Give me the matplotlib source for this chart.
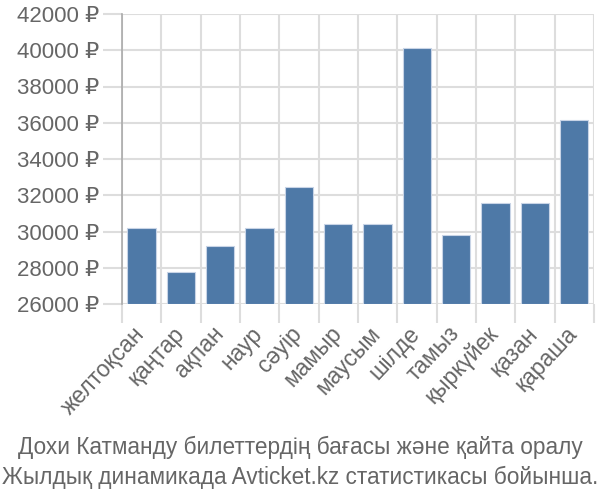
import matplotlib.pyplot as plt
import matplotlib.transforms as mtransforms
import numpy as np

plt.rcParams['font.family'] = ['Liberation Sans', 'DejaVu Sans']

months = ['желтоқсан', 'қаңтар', 'ақпан', 'наур', 'сәуір', 'мамыр',
          'маусым', 'шілде', 'тамыз', 'қыркүйек', 'қазан', 'қараша']
prices = [30200, 27750, 29200, 30200, 32470, 30410,
          30410, 40140, 29830, 31590, 31590, 36150]
yticks = list(range(26000, 42001, 2000))
title_lines = ['Дохи Катманду билеттердің бағасы және қайта оралу',
               'Жылдық динамикада Avticket.kz статистикасы бойынша.']

text_col = '#666666'
grid_col = '#dddddd'

fig = plt.figure(figsize=(6, 5), dpi=100)
ax = fig.add_axes([0.203, 0.392, 0.787, 0.58])

x = np.arange(len(months))
ax.bar(x, [p - 26000 for p in prices], bottom=26000, width=0.72,
       color='#4e79a7', edgecolor='#c8d4e6', linewidth=0.8, zorder=3)

ax.set_xlim(-0.5, len(months) - 0.5)
ax.set_ylim(26000, 42000)
ax.set_yticks(yticks)
ax.set_yticklabels([f'{v} ₽' for v in yticks], fontsize=16, color=text_col)

# grid lines sit on category boundaries, ticks at bar centres
ax.set_xticks(x)
ax.set_xticklabels(months, rotation=47, ha='right', va='top',
                   rotation_mode='anchor', fontsize=16.5, color=text_col)
ax.tick_params(axis='x', length=0, pad=13)
shift = mtransforms.ScaledTranslation(-0.09, 0, fig.dpi_scale_trans)
for lbl in ax.get_xticklabels():
    lbl.set_transform(lbl.get_transform() + shift)
ax.set_xticks(np.arange(-0.5, len(months) + 0.5, 1), minor=True)
ax.tick_params(axis='x', which='minor', length=14, color=grid_col, width=1.5)
ax.tick_params(axis='y', length=14, color=grid_col, width=1.5, pad=2)
ax.grid(True, which='minor', axis='x', color=grid_col, lw=1.5, zorder=0)
ax.grid(True, which='major', axis='y', color=grid_col, lw=1.5, zorder=0)

for s in ['top', 'right', 'bottom']:
    ax.spines[s].set_visible(False)
ax.spines['left'].set_color('#aaaaaa')
ax.spines['left'].set_linewidth(1.2)

fig.text(0.5, 0.106, title_lines[0], ha='center', va='center', fontsize=16.3, color=text_col)
fig.text(0.5, 0.046, title_lines[1], ha='center', va='center', fontsize=16.3, color=text_col)

fig.savefig('out.png', dpi=100)
